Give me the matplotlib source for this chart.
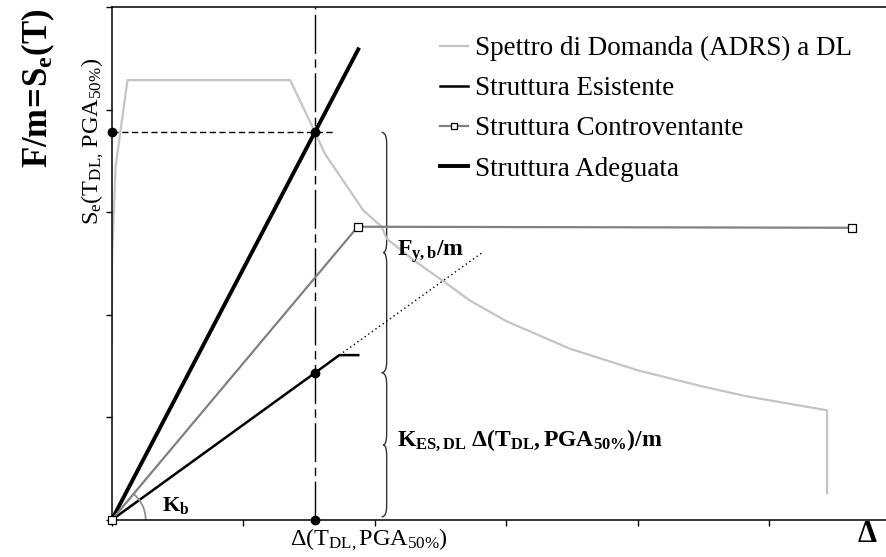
import numpy as np
import matplotlib
matplotlib.use('Agg')
import matplotlib.pyplot as plt
from matplotlib.path import Path
from matplotlib.patches import PathPatch

plt.rcParams['font.family'] = ['Liberation Serif', 'DejaVu Serif']
plt.rcParams['mathtext.fontset'] = 'custom'
plt.rcParams['mathtext.rm'] = 'Liberation Serif'
plt.rcParams['mathtext.bf'] = 'Liberation Serif:bold'
plt.rcParams['mathtext.it'] = 'Liberation Serif:italic'

# data (x in tick units, y in tick units)
spec_x = [0.0, 0.003, 0.029, 0.12, 1.357, 1.547, 1.622, 1.913, 2.053, 2.09, 2.30, 2.51,
          2.725, 3.0, 3.485, 4.0, 4.5, 4.854, 5.44, 5.44]
spec_y = [1.725, 2.56, 3.44, 4.29, 4.29, 3.78, 3.57, 3.02, 2.86, 2.745, 2.53, 2.34,
          2.14, 1.94, 1.67, 1.46, 1.30, 1.20, 1.07, 0.26]

esist_x = [0.0, 1.547, 1.731, 1.875]
esist_y = [0.0, 1.436, 1.608, 1.608]
esist_ext_x = [1.731, 2.826]
esist_ext_y = [1.608, 2.615]

contr_x = [0.0, 1.871, 5.627]
contr_y = [0.0, 2.86, 2.85]

adeg_x = [0.0, 1.875]
adeg_y = [0.0, 4.59]

delta_dl = 1.547
se_dl = 3.78
f_esist_dl = 1.436

labels = ['Spettro di Domanda (ADRS) a DL', 'Struttura Esistente',
          'Struttura Controventante', 'Struttura Adeguata']

W, H = 887, 557
fig = plt.figure(figsize=(W / 100, H / 100), dpi=100)
ax = fig.add_axes([111.7 / W, 1 - 520 / H, 1 - 111.7 / W, (520 - 7.3) / H])
ax.set_xlim(0, (W - 111.7) / 131.5)
ax.set_ylim(0, 5)

l1, = ax.plot(spec_x, spec_y, color='#c4c4c4', lw=1.6, label=labels[0])
l2, = ax.plot(esist_x, esist_y, color='black', lw=1.8, label=labels[1])
ax.plot(esist_ext_x, esist_ext_y, color='black', lw=1, ls=(0, (1, 2.2)))
l3, = ax.plot(contr_x, contr_y, color='#808080', lw=1.6, marker='s', ms=5.5,
              mfc='white', mec='black', mew=0.9, clip_on=False, zorder=5, label=labels[2])
l4, = ax.plot(adeg_x, adeg_y, color='black', lw=2.8, label=labels[3])

# reference lines
ax.plot([delta_dl, delta_dl], [0, 5], color='black', lw=1, ls=(0, (28, 4, 6, 4)))
ax.plot([0, 1.68], [se_dl, se_dl], color='black', lw=1, ls=(0, (4.5, 2.5)))
ax.plot([0, delta_dl, delta_dl, delta_dl], [se_dl, se_dl, 0, f_esist_dl], 'o',
        color='black', ms=6, clip_on=False, zorder=6)

# angle arc for K_b (radius in pixels)
th = np.radians(np.linspace(0, 50, 40))
ax.plot(34 * np.cos(th) / 131.5, 34 * np.sin(th) / 102.6, color='#909090', lw=1.3)


def brace(x, y0, y1, dx=0.038, r=0.11):
    ym = (y0 + y1) / 2
    verts = [(x - dx, y1), (x, y1), (x, y1 - r),
             (x, ym + r), (x, ym), (x - dx * 0.7, ym),
             (x, ym), (x, ym - r),
             (x, y0 + r), (x, y0), (x - dx, y0)]
    codes = [Path.MOVETO, Path.CURVE3, Path.CURVE3,
             Path.LINETO, Path.CURVE3, Path.CURVE3,
             Path.CURVE3, Path.CURVE3,
             Path.LINETO, Path.CURVE3, Path.CURVE3]
    ax.add_patch(PathPatch(Path(verts, codes), fill=False, lw=1, ec='#333333'))


brace(2.091, f_esist_dl, se_dl)
brace(2.091, 0.03, f_esist_dl)

ax.spines['right'].set_visible(False)
for s in ['left', 'bottom', 'top']:
    ax.spines[s].set_linewidth(1.1)
ax.set_xticks(range(6))
ax.set_yticks(range(6))
ax.tick_params(direction='out', length=4, width=1, labelbottom=False, labelleft=False)

ax.legend(handles=[l1, l2, l3, l4], loc='upper left', bbox_to_anchor=(440 / W, 1 - 36 / H),
          bbox_transform=fig.transFigure, frameon=False, fontsize=19.5, handlelength=1.04,
          handletextpad=0.26, labelspacing=0.56, borderpad=0, borderaxespad=0, markerscale=0.8)


def ftext(x, y, s, **kw):
    fig.text(x / W, 1 - y / H, s, **kw)


ftext(38, 88, r'$\mathbf{F/m\!=\!S_e(T)}$', fontsize=25, rotation=90, ha='center', va='center')
ftext(93, 141, r'$\mathrm{S_e(T_{DL,}\,PGA_{50\%})}$', fontsize=17.5, rotation=90,
      ha='center', va='center')
ftext(369, 540, r'$\mathrm{\Delta(T_{DL,}PGA_{50\%})}$', fontsize=17.5, ha='center', va='center')
ftext(867, 534, r'$\mathbf{\Delta}$', fontsize=22, ha='center', va='center')
ftext(162, 505, r'$\mathbf{K_b}$', fontsize=16, ha='left', va='center')
ftext(397, 252, r'$\mathbf{F_{y,b}/m}$', fontsize=17, ha='left', va='center')
ftext(397, 440, r'$\mathbf{K_{ES,DL}\ \Delta(T_{DL},PGA_{50\%})/m}$', fontsize=17,
      ha='left', va='center')

fig.savefig('out.png', dpi=100)
